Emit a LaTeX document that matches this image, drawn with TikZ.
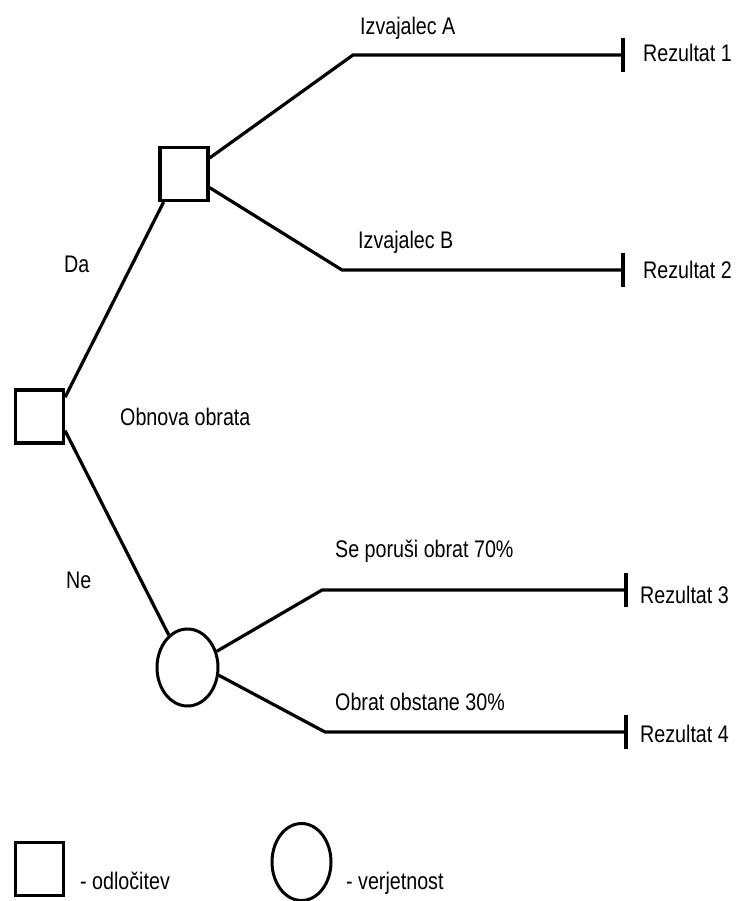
\documentclass[tikz,border=0pt]{standalone}
\usepackage{fontspec}
\setmainfont{Liberation Sans}[FakeStretch=0.82]
\usetikzlibrary{shapes.geometric}
\begin{document}
\begin{tikzpicture}[x=1pt,y=-1pt,
  dec/.style={draw, line width=3.2pt, minimum width=48pt, minimum height=53pt, inner sep=0pt},
  chance/.style={ellipse, draw, line width=3pt, minimum width=61pt, minimum height=77pt, inner sep=0pt},
  branch/.style={line width=3.2pt, line join=round},
  endbar/.style={fill=black, minimum width=3.2pt, minimum height=34pt, inner sep=0pt},
  lbl/.style={anchor=base west, font=\fontsize{24}{28}\selectfont, inner sep=0pt}]
\useasboundingbox (0,0) rectangle (738,901);
% decision and chance nodes
\node[dec] (root) at (39.5,416.5) {};
\node[dec] (d1) at (184,174) {};
\node[chance] (c1) at (187.5,667.5) {};
% end bars
\node[endbar] (b1) at (623,55) {};
\node[endbar] (b2) at (623,270) {};
\node[endbar] (b3) at (626,590) {};
\node[endbar] (b4) at (626,732) {};
% corner coordinates
\coordinate (k1) at (353,55);
\coordinate (k2) at (342,270);
\coordinate (k3) at (322,590);
\coordinate (k4) at (325,732);
% connectors
\draw[branch] (root.37) -- (d1.234);
\draw[branch] (root.-29) -- (c1.120);
\draw[branch] (d1.32) -- (k1) -- (b1);
\draw[branch] (d1.-28) -- (k2) -- (b2);
\draw[branch] (c1.29) -- (k3) -- (b3);
\draw[branch] (c1.-14) -- (k4) -- (b4);
% labels
\node[lbl] (tA) at (360,35) {Izvajalec A};
\node[lbl] (tB) at (358,248) {Izvajalec B};
\node[lbl] (tDa) at (64,272) {Da};
\node[lbl] (tOb) at (120,425) {Obnova obrata};
\node[lbl] (tNe) at (66,588) {Ne};
\node[lbl] (tSe) at (335,557) {Se poruši obrat 70\%};
\node[lbl] (tOo) at (335,710) {Obrat obstane 30\%};
\node[lbl] (r1) at (643,62) {Rezultat 1};
\node[lbl] (r2) at (643,278) {Rezultat 2};
\node[lbl] (r3) at (640,603) {Rezultat 3};
\node[lbl] (r4) at (640,742) {Rezultat 4};
% legend
\node[dec] (lsq) at (39.5,869) {};
\node[lbl] (lsqt) at (80,889) {- odločitev};
\node[chance, minimum width=59pt] (lci) at (301.5,862) {};
\node[lbl] (lcit) at (346,889) {- verjetnost};
\end{tikzpicture}
\end{document}
